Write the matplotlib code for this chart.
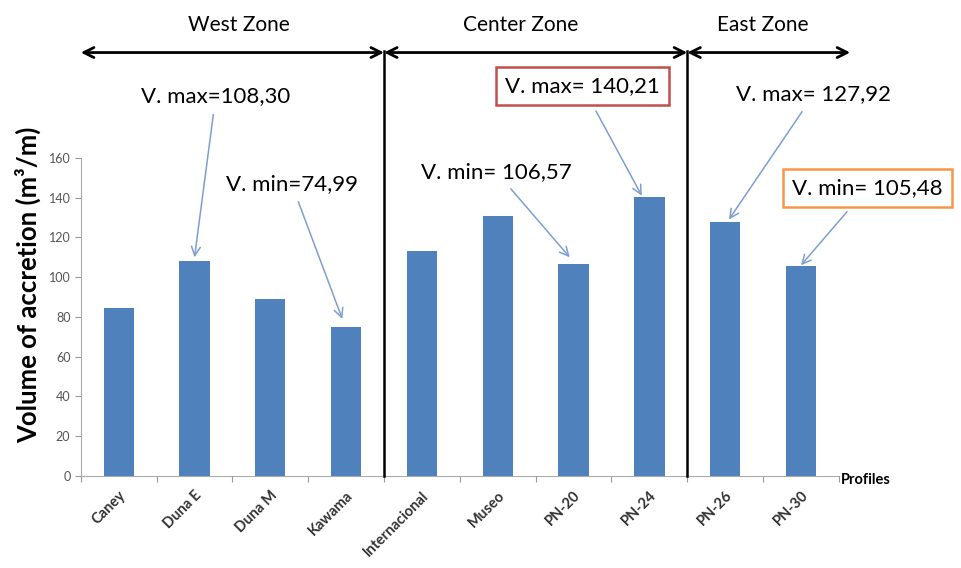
import numpy as np
import matplotlib.pyplot as plt

plt.rcParams['font.family'] = ['Lato', 'DejaVu Sans']

# data
profiles = ['Caney', 'Duna E', 'Duna M', 'Kawama', 'Internacional',
            'Museo', 'PN-20', 'PN-24', 'PN-26', 'PN-30']
volumes = [84.5, 108.30, 89.0, 74.99, 113.0, 131.0, 106.57, 140.21, 127.92, 105.48]

zones = ['West Zone', 'Center Zone', 'East Zone']
zone_edges = [-0.5, 3.5, 7.5, 9.65]
zone_label_x = [1.58, 5.3, 8.5]

# (text, text position, arrow target, box colour)
notes = [
    ('V. max=108,30', (1.28, 191), (1.0, 110), None),
    ('V. min=74,99', (2.28, 147), (2.95, 79), None),
    ('V. min= 106,57', (4.98, 153), (5.95, 110), None),
    ('V. max= 140,21', (6.12, 196), (6.9, 141), '#c0504d'),
    ('V. max= 127,92', (9.17, 192), (8.05, 129), None),
    ('V. min= 105,48', (9.88, 145), (9.0, 106), '#f79646'),
]

BAR_COLOR = '#4f81bd'
ARROW_COLOR = '#7f9fd0'

fig = plt.figure(figsize=(9.62, 5.68), dpi=100)
ax = fig.add_axes([0.084, 0.162, 0.788, 0.56])

x = np.arange(len(profiles))
ax.bar(x, volumes, width=0.4, color=BAR_COLOR, zorder=2)

ax.set_xlim(-0.5, len(profiles) - 0.5)
ax.set_ylim(0, 160)
ax.set_yticks(np.arange(0, 161, 20))
ax.set_xticks(np.arange(-0.5, len(profiles), 1))
ax.set_xticklabels([])
ax.set_xticks(x, minor=True)
ax.set_xticklabels(profiles, minor=True, rotation=45, ha='right',
                   rotation_mode='anchor', fontsize=10.5, fontweight='bold',
                   color='#333333')
ax.tick_params(axis='x', which='minor', length=0, pad=9)
ax.tick_params(axis='x', which='major', length=4, color='#999999')
ax.tick_params(axis='y', length=4, color='#999999', labelsize=9,
               labelcolor='#555555')

for side in ['top', 'right']:
    ax.spines[side].set_visible(False)
for side in ['left', 'bottom']:
    ax.spines[side].set_color('#aaaaaa')

ax.set_ylabel('Volume of accretion (m³/m)', fontsize=18.5, fontweight='bold')
ax.yaxis.set_label_coords(-0.052, 0.6)
ax.text(1.035, -2, 'Profiles', transform=ax.get_yaxis_transform(),
        fontsize=10.5, fontweight='bold', va='center', ha='center', clip_on=False)

# zone separators and double arrows
for b in zone_edges[1:3]:
    ax.plot([b, b], [0, 214], color='black', lw=1.8, clip_on=False, zorder=3)
for a, b in zip(zone_edges[:-1], zone_edges[1:]):
    ax.annotate('', xy=(b, 213), xytext=(a, 213), annotation_clip=False,
                arrowprops=dict(arrowstyle='<->', lw=2, color='black',
                                mutation_scale=18, shrinkA=0, shrinkB=0))
for name, zx in zip(zones, zone_label_x):
    ax.text(zx, 227, name, fontsize=15, ha='center', va='center', clip_on=False)

for label, txt, tip, box in notes:
    bbox = None
    if box:
        bbox = dict(boxstyle='square,pad=0.4', fc='white', ec=box, lw=1.8)
    ax.annotate(label, xy=tip, xytext=txt, fontsize=16, ha='center', va='center',
                bbox=bbox, annotation_clip=False, zorder=4,
                arrowprops=dict(arrowstyle='->', color=ARROW_COLOR, lw=1.1,
                                shrinkA=4, shrinkB=0))

fig.savefig('out.png', dpi=100)
